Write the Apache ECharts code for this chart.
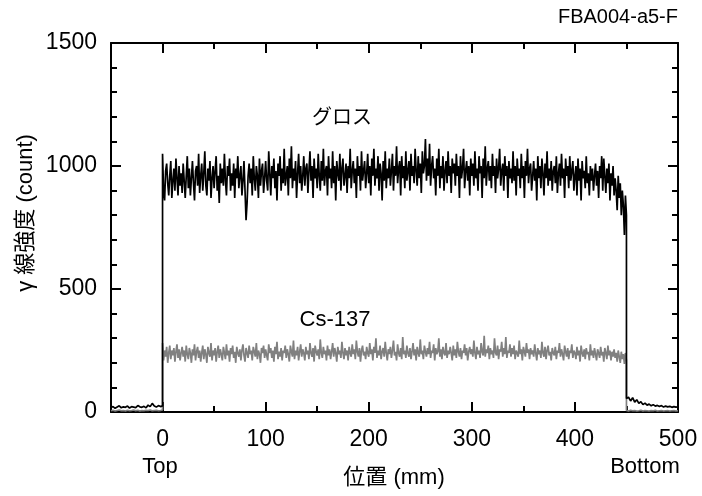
<!DOCTYPE html>
<html>
<head>
<meta charset="utf-8">
<script src="https://cdn.jsdelivr.net/npm/echarts@6/dist/echarts.min.js"></script>
<style>html,body{margin:0;padding:0;background:#fff}#c{width:702px;height:496px}</style>
</head>
<body>
<div id="c"></div>
<script>
// ---- data (counts) ----
// before the sample: -50..0 mm (2 mm step); sample: 0..450 mm (1 mm step); after: 450..500 mm (2 mm step)
const preStart = -50, mainStart = 0, postStart = 450;
const edgeStep = 2, mainStep = 1;
const grossPre = [18,22,15,20,25,17,21,19,24,16,22,20,18,26,21,19,23,17,28,22,35,24,20,26,22,25];
const grossMain = [
 1050,900,860,980,1010,930,880,960,1020,870,940,990,900,1030,950,880,1000,920,970,890,
 1010,940,870,960,1040,910,990,880,950,1020,930,860,980,1000,920,1050,890,960,1010,900,
 970,1060,920,880,990,940,1020,870,950,1000,910,980,1040,900,960,850,1010,930,990,920,
 1050,940,880,1000,960,1030,900,970,920,1010,870,990,950,1040,910,960,1000,880,940,1020,
 900,780,850,960,1010,930,990,880,1040,950,900,1000,960,870,1030,920,980,1010,890,950,
 1020,940,900,1060,970,880,1000,950,1030,910,980,860,1010,960,1040,900,990,930,1070,920,
 960,1000,880,1030,950,1080,910,990,940,1020,870,970,1050,930,1000,900,960,1040,920,990,
 1010,890,980,1060,940,1000,870,1030,950,990,910,1050,960,900,1020,940,1070,920,980,1000,
 880,1040,950,990,910,1060,930,1000,860,1020,970,940,1050,900,990,1030,920,960,1010,890,
 1000,950,1070,910,980,1020,930,990,870,1040,960,1000,900,1060,940,980,1020,910,970,1050,
 930,1000,880,1030,960,1070,920,990,950,1040,900,1010,970,860,1020,940,1060,910,990,950,
 1030,920,980,1050,900,1000,960,1080,930,990,1020,880,1040,950,1000,910,1060,940,980,1020,
 900,1050,960,1000,930,1070,980,920,1040,950,1010,890,1060,970,1000,1110,940,1030,960,1090,
 920,1000,1040,950,990,880,1030,960,1070,910,1000,950,1040,900,980,1020,930,1060,960,1000,
 890,1030,970,1010,920,1050,960,1000,870,1040,950,990,1070,910,980,1020,940,1000,880,1030,
 960,1010,920,1060,950,990,900,1040,970,1000,870,1030,950,1080,920,990,1020,940,1000,910,
 1050,960,1000,890,1030,950,990,1070,920,980,1010,900,1040,960,1000,870,1020,950,990,930,
 1060,940,1000,880,1030,960,990,910,1050,950,1000,870,1020,960,1070,930,990,1010,900,960,
 1020,940,990,860,1040,950,1000,910,1030,970,880,1010,950,1060,920,990,940,1020,900,980,
 1000,930,1040,890,970,1010,920,1050,950,990,870,1030,960,1000,910,1040,940,980,1020,900,
 960,1000,880,1030,940,990,860,1020,950,980,910,1040,930,970,880,1000,940,990,900,960,
 1010,920,980,870,1000,950,1040,900,1030,960,890,990,930,1010,860,970,920,1000,880,950,
 900,820,960,870,930,800,900,840,720,880,800
];
const grossPost = [55,60,45,58,40,50,35,42,30,36,28,32,25,30,24,27,22,26,20,24,21,23,19,22,20,21];

const csPre = [5,7,4,6,8,5,6,4,7,5,6,8,5,7,4,6,5,7,6,8,5,6,7,5,6,8];
const csMain = [
 280,210,250,225,265,200,240,270,215,250,230,260,205,245,275,220,255,210,240,265,
 225,250,205,270,235,215,260,240,200,255,230,275,210,245,265,220,250,205,240,270,
 215,255,235,200,265,240,225,280,210,250,230,260,205,245,270,220,255,235,210,265,
 240,215,275,230,250,205,260,235,270,220,245,200,265,240,225,255,210,250,275,230,
 205,260,240,220,270,235,250,210,265,245,225,280,215,250,235,200,260,240,270,220,
 255,230,210,275,240,260,220,250,205,265,235,285,215,245,225,260,210,250,240,270,
 220,255,235,205,270,245,225,290,215,250,230,265,210,245,275,225,255,240,210,265,
 235,250,215,280,240,225,260,205,270,245,230,255,215,295,240,220,265,235,250,210,
 270,230,255,215,245,280,225,260,240,205,265,235,250,220,285,240,215,260,230,250,
 210,265,240,225,275,235,255,215,290,245,225,260,205,250,270,230,245,215,265,240,
 225,280,235,255,210,265,240,300,220,250,230,270,215,245,260,225,285,240,210,255,
 235,265,220,250,290,230,245,210,275,240,225,260,215,305,235,250,220,270,240,225,
 260,215,245,280,230,255,210,265,240,225,295,235,250,215,270,245,225,260,235,285,
 220,250,240,275,210,260,235,245,300,225,255,215,265,240,230,280,220,250,235,265,
 240,210,270,230,255,220,285,245,225,260,215,250,240,275,230,260,210,245,265,235,
 255,225,290,240,215,265,235,250,220,280,245,230,310,225,255,240,270,215,260,235,
 250,220,300,240,230,270,215,255,245,285,225,260,235,305,220,250,240,275,225,260,
 235,270,215,250,240,225,290,235,255,210,265,245,225,280,240,255,215,260,235,250,
 225,275,240,210,260,235,250,220,285,240,225,265,215,250,270,230,245,210,260,240,
 230,265,215,250,240,280,225,255,235,210,270,245,225,260,215,250,240,275,220,250,
 240,215,265,230,250,205,270,240,225,255,215,260,235,245,210,275,230,250,220,260,
 235,210,255,240,220,265,230,245,205,260,240,215,270,230,250,210,245,225,255,220,
 240,205,250,225,200,245,215,235,195,240,210
];
const csPost = [6,4,7,5,6,4,5,7,4,6,5,4,6,5,7,4,5,6,4,5,6,4,5,6,4,5];

const xMajor = [0,100,200,300,400,500];
const xMinor = [50,150,250,350,450];
const yLabels = [0,500,1000,1500];
const yMajor = [500,1000];
const yMinor = [100,200,300,400,600,700,800,900,1100,1200,1300,1400];

function seg(start, step, vals){ return vals.map((v,i)=>[start + i*step, v]); }
function build(pre, main, post){
  return seg(preStart,edgeStep,pre).concat(seg(mainStart,mainStep,main), seg(postStart,edgeStep,post));
}

const FONT = 'Liberation Sans, Arial, sans-serif';
const JFONT = 'Liberation Sans, Noto Sans CJK JP, sans-serif';

function xAx(pos, ticks, len, line, labels){
  return {
    type:'value', min:-50, max:500, interval:50, position:pos,
    axisLine:{show:line, onZero:false, lineStyle:{color:'#000', width:2}},
    axisTick:{show:true, inside:true, length:len, customValues:ticks, lineStyle:{color:'#000', width:2}},
    axisLabel: labels ? {show:true, customValues:xMajor, color:'#000', fontSize:23, fontFamily:FONT, margin:16,
                         formatter:v=>String(v)} : {show:false},
    splitLine:{show:false}
  };
}
function yAx(pos, ticks, len, line, labels){
  return {
    type:'value', min:0, max:1500, interval:100, position:pos,
    axisLine:{show:line, onZero:false, lineStyle:{color:'#000', width:2}},
    axisTick:{show:true, inside:true, length:len, customValues:ticks, lineStyle:{color:'#000', width:2}},
    axisLabel: labels ? {show:true, customValues:yLabels, color:'#000', fontSize:23, fontFamily:FONT, margin:14,
                         formatter:v=>String(v)} : {show:false},
    splitLine:{show:false}
  };
}

const chart = echarts.init(document.getElementById('c'));
chart.setOption({
  animation:false,
  backgroundColor:'#fff',
  grid:{left:111, right:24, top:43, bottom:84, containLabel:false},
  xAxis:[
    xAx('bottom', xMajor, 10, true, true),
    xAx('bottom', xMinor, 6, false, false),
    xAx('top', xMajor, 10, true, false),
    xAx('top', xMinor, 6, false, false)
  ],
  yAxis:[
    yAx('left', yMajor, 10, true, true),
    yAx('left', yMinor, 6, false, false),
    yAx('right', yMajor, 10, true, false),
    yAx('right', yMinor, 6, false, false)
  ],
  series:[
    {type:'line', name:'Cs-137', data:build(csPre,csMain,csPost), showSymbol:false, symbol:'none',
     lineStyle:{color:'#808080', width:1.7}, xAxisIndex:0, yAxisIndex:0, z:3},
    {type:'line', name:'グロス', data:build(grossPre,grossMain,grossPost), showSymbol:false, symbol:'none',
     lineStyle:{color:'#000', width:1.7}, xAxisIndex:0, yAxisIndex:0, z:4}
  ],
  graphic:[
    {type:'text', right:24, top:7, style:{text:'FBA004-a5-F', font:'20px '+FONT, fill:'#000'}},
    {type:'text', x:342, y:118, style:{text:'グロス', font:'20px '+JFONT, fill:'#000', align:'center', verticalAlign:'middle'}},
    {type:'text', x:335, y:320, style:{text:'Cs-137', font:'22px '+FONT, fill:'#000', align:'center', verticalAlign:'middle'}},
    {type:'text', x:160, y:467, style:{text:'Top', font:'22px '+FONT, fill:'#000', align:'center', verticalAlign:'middle'}},
    {type:'text', x:645, y:467, style:{text:'Bottom', font:'22px '+FONT, fill:'#000', align:'center', verticalAlign:'middle'}},
    {type:'text', x:394, y:478, style:{text:'位置 (mm)', font:'22px '+JFONT, fill:'#000', align:'center', verticalAlign:'middle'}},
    {type:'text', x:26, y:213, rotation:Math.PI/2, style:{text:'γ 線強度 (count)', font:'22px '+JFONT, fill:'#000', align:'center', verticalAlign:'middle'}}
  ]
});
</script>
</body>
</html>
